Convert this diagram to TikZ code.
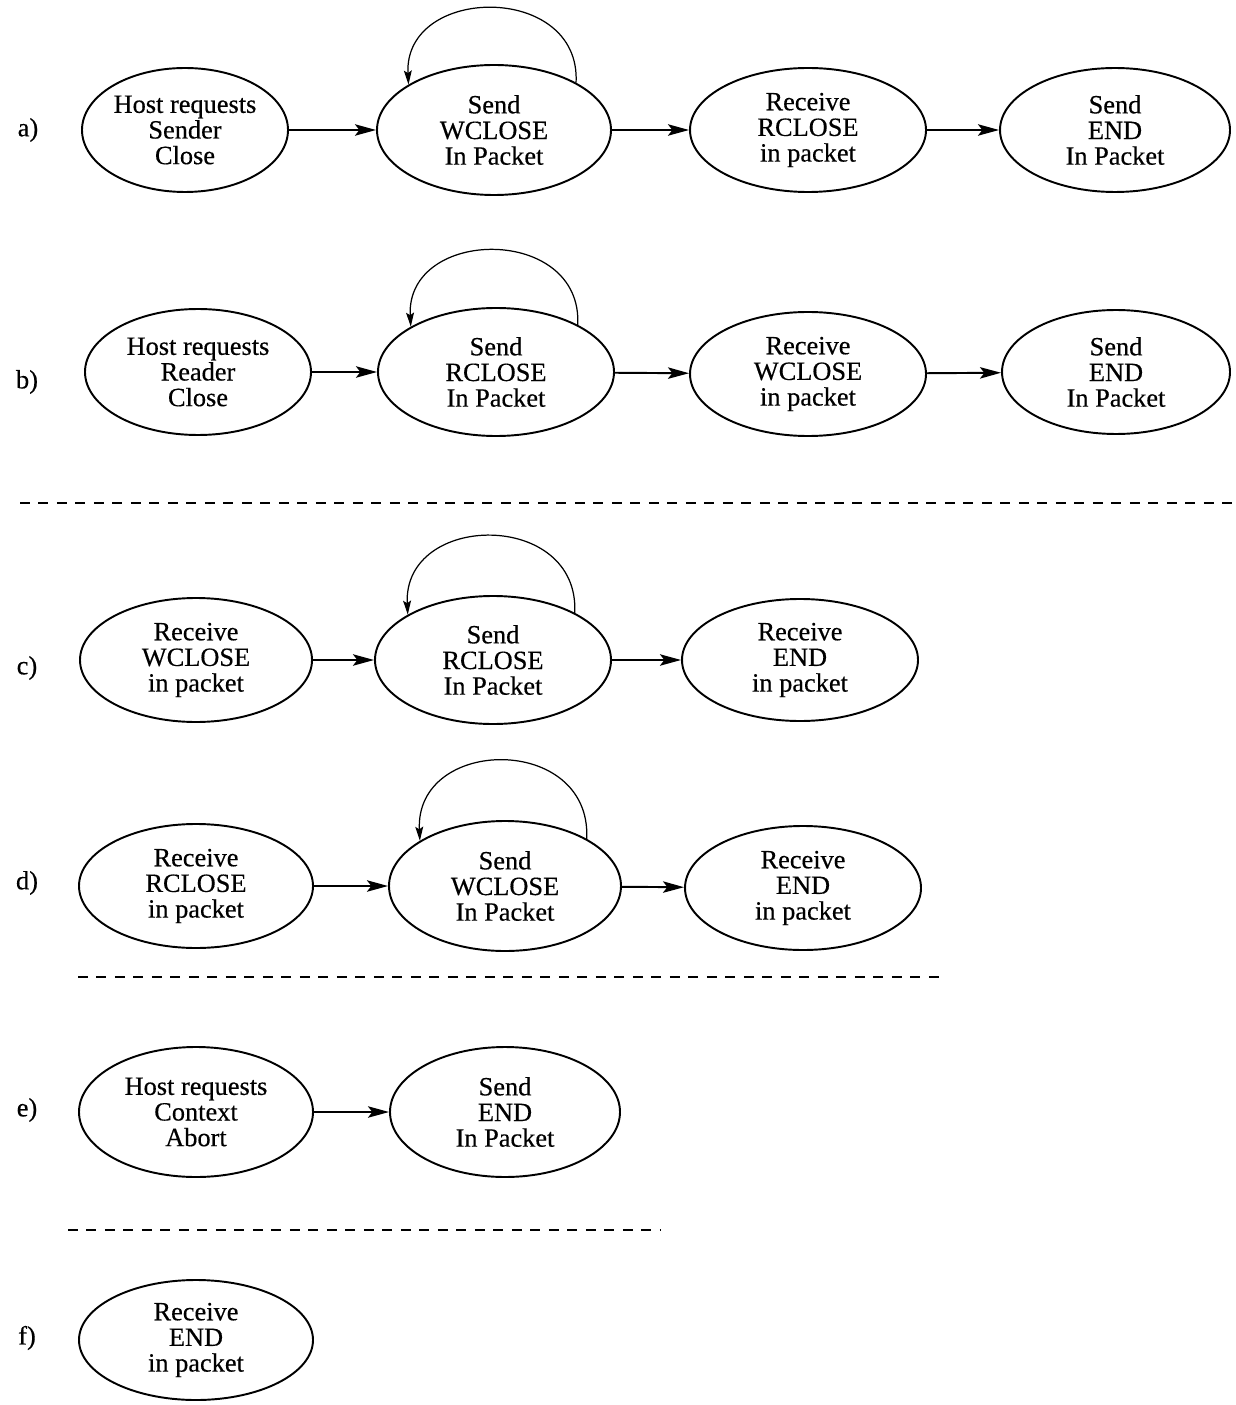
\documentclass[tikz,border=0pt]{standalone}
\usepackage{fontspec}
\setmainfont{Liberation Serif}[FakeBold=0.4]
\usetikzlibrary{shapes.geometric,arrows.meta}
\begin{document}
\begin{tikzpicture}[x=0.02cm,y=-0.02cm,
  state/.style={draw,ellipse,line width=1.1pt,inner sep=0pt,align=center,
    font=\fontsize{15pt}{14.6pt}\selectfont},
  lbl/.style={font=\fontsize{15pt}{15pt}\selectfont},
  arr/.style={line width=1.1pt,-{Stealth[length=12pt,width=6.5pt,inset=2.5pt]}},
  looparr/.style={line width=0.7pt,-{Stealth[length=8pt,width=4.5pt,inset=1.5pt]}},
  sep/.style={line width=1.1pt,dash pattern=on 0.2cm off 0.17cm}]
\useasboundingbox (0,0) rectangle (1236,1405);

% row a
\node[lbl] (la) at (28,130) {a)};
\node[state,minimum width=206*0.02cm,minimum height=124*0.02cm] (a1) at (185,130) {Host requests\\Sender\\Close};
\node[state,minimum width=234*0.02cm,minimum height=130*0.02cm] (a2) at (494,130) {Send\\WCLOSE\\In Packet};
\node[state,minimum width=236*0.02cm,minimum height=124*0.02cm] (a3) at (808,130) {Receive\\RCLOSE\\in packet};
\node[state,minimum width=230*0.02cm,minimum height=124*0.02cm] (a4) at (1115,130) {Send\\END\\In Packet};
\draw[arr] (a1) -- (a2);
\draw[arr] (a2) -- (a3);
\draw[arr] (a3) -- (a4);
\draw[looparr] (a2.30) .. controls +(5,-100) and +(-5,-100) .. (a2.152);

% row b
\node[lbl] (lb) at (27,382) {b)};
\node[state,minimum width=226*0.02cm,minimum height=126*0.02cm] (b1) at (198,372) {Host requests\\Reader\\Close};
\node[state,minimum width=236*0.02cm,minimum height=128*0.02cm] (b2) at (496,372) {Send\\RCLOSE\\In Packet};
\node[state,minimum width=236*0.02cm,minimum height=124*0.02cm] (b3) at (808,374) {Receive\\WCLOSE\\in packet};
\node[state,minimum width=228*0.02cm,minimum height=124*0.02cm] (b4) at (1116,372) {Send\\END\\In Packet};
\draw[arr] (b1) -- (b2);
\draw[arr] (b2) -- (b3);
\draw[arr] (b3) -- (b4);
\draw[looparr] (b2.30) .. controls +(5,-100) and +(-5,-100) .. (b2.152);

\coordinate (s1a) at (20,503);
\coordinate (s1b) at (1236,503);
\draw[sep] (s1a) -- (s1b);

% row c
\node[lbl] (lc) at (27,668) {c)};
\node[state,minimum width=232*0.02cm,minimum height=124*0.02cm] (c1) at (196,660) {Receive\\WCLOSE\\in packet};
\node[state,minimum width=236*0.02cm,minimum height=128*0.02cm] (c2) at (493,660) {Send\\RCLOSE\\In Packet};
\node[state,minimum width=236*0.02cm,minimum height=122*0.02cm] (c3) at (800,660) {Receive\\END\\in packet};
\draw[arr] (c1) -- (c2);
\draw[arr] (c2) -- (c3);
\draw[looparr] (c2.30) .. controls +(5,-103) and +(-5,-103) .. (c2.152);

% row d
\node[lbl] (ld) at (27,883) {d)};
\node[state,minimum width=234*0.02cm,minimum height=124*0.02cm] (d1) at (196,886) {Receive\\RCLOSE\\in packet};
\node[state,minimum width=232*0.02cm,minimum height=130*0.02cm] (d2) at (505,886) {Send\\WCLOSE\\In Packet};
\node[state,minimum width=236*0.02cm,minimum height=124*0.02cm] (d3) at (803,888) {Receive\\END\\in packet};
\draw[arr] (d1) -- (d2);
\draw[arr] (d2) -- (d3);
\draw[looparr] (d2.30) .. controls +(5,-105) and +(-5,-105) .. (d2.152);

\coordinate (s2a) at (78,977);
\coordinate (s2b) at (940,977);
\draw[sep] (s2a) -- (s2b);

% row e
\node[lbl] (le) at (27,1110) {e)};
\node[state,minimum width=234*0.02cm,minimum height=130*0.02cm] (e1) at (196,1112) {Host requests\\Context\\Abort};
\node[state,minimum width=230*0.02cm,minimum height=130*0.02cm] (e2) at (505,1112) {Send\\END\\In Packet};
\draw[arr] (e1) -- (e2);

\coordinate (s3a) at (68,1230);
\coordinate (s3b) at (660,1230);
\draw[sep] (s3a) -- (s3b);

% row f
\node[lbl] (lf) at (27,1338) {f)};
\node[state,minimum width=234*0.02cm,minimum height=120*0.02cm] (f1) at (196,1340) {Receive\\END\\in packet};
\end{tikzpicture}
\end{document}
